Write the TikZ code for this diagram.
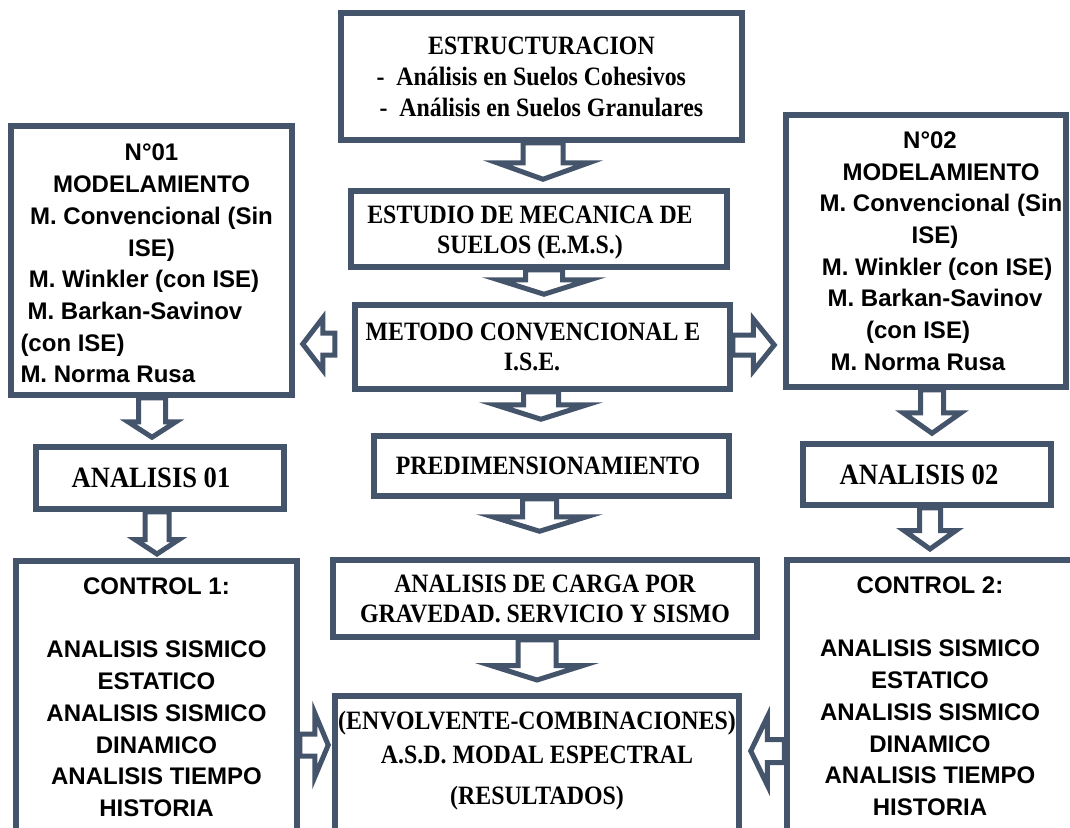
\documentclass[tikz,border=0pt]{standalone}
\usepackage{fontspec}
\setmainfont{Liberation Serif}[FakeStretch=0.9]
\newfontfamily\arialf{Liberation Sans}
\usetikzlibrary{calc}
\definecolor{slate}{HTML}{44546A}
\tikzset{
  box/.style={draw=slate, line width=5.5pt, fill=white, inner sep=0pt, align=center},
  serifb/.style={font=\fontsize{26.5}{30}\selectfont\bfseries},
  sansb/.style={font=\arialf\fontsize{24}{31.7}\selectfont\bfseries},
  barrow/.style={draw=slate, line width=5pt, fill=white, line join=miter},
}
% down arrow: from, to, x, shaft half width, head half width, head length, gap to target
\newcommand\arrdown[7]{%
  \draw[barrow] let \p1=(#1.south), \p2=(#2.north) in
  (#3pt-#4pt,\y1) -- (#3pt-#4pt,\y2+#7pt+#6pt) -- (#3pt-#5pt,\y2+#7pt+#6pt) -- (#3pt,\y2+#7pt)
  -- (#3pt+#5pt,\y2+#7pt+#6pt) -- (#3pt+#4pt,\y2+#7pt+#6pt) -- (#3pt+#4pt,\y1) -- cycle;}
% left arrow: from (to the right), to (on the left), y, shaft hw, head hw, head length, gap, start offset
\newcommand\arrleft[8]{%
  \draw[barrow] let \p1=(#1.west), \p2=(#2.east) in
  (\x1-#8pt,#4pt-#3pt) -- (\x2+#7pt+#6pt,#4pt-#3pt) -- (\x2+#7pt+#6pt,#5pt-#3pt) -- (\x2+#7pt,-#3pt)
  -- (\x2+#7pt+#6pt,-#5pt-#3pt) -- (\x2+#7pt+#6pt,-#4pt-#3pt) -- (\x1-#8pt,-#4pt-#3pt) -- cycle;}
% right arrow: from (on the left), to (on the right), y, shaft hw, head hw, head length, gap, start offset
\newcommand\arrright[8]{%
  \draw[barrow] let \p1=(#1.east), \p2=(#2.west) in
  (\x1+#8pt,#4pt-#3pt) -- (\x2-#7pt-#6pt,#4pt-#3pt) -- (\x2-#7pt-#6pt,#5pt-#3pt) -- (\x2-#7pt,-#3pt)
  -- (\x2-#7pt-#6pt,-#5pt-#3pt) -- (\x2-#7pt-#6pt,-#4pt-#3pt) -- (\x1+#8pt,-#4pt-#3pt) -- cycle;}
\begin{document}
\begin{tikzpicture}[x=1pt,y=1pt]
\useasboundingbox (0,0) rectangle (1070,-827);
\fill[white] (0,0) rectangle (1070,-827);
\clip (0,0) rectangle (1070,-827);

% central column
\node[box, serifb, font=\fontsize{26.5}{31}\selectfont\bfseries, minimum width=401, minimum height=127] (est) at (541.5,-76.5)
  {ESTRUCTURACION\\
   \makebox[330pt][l]{-\hspace{12pt}Análisis en Suelos Cohesivos}\\
   \makebox[330pt][l]{\hspace{3pt}-\hspace{12pt}Análisis en Suelos Granulares}};
\node[box, serifb, minimum width=376, minimum height=76] (ems) at (539,-229)
  {\rule{0pt}{25pt}\hspace*{-18pt}ESTUDIO DE MECANICA DE\\\hspace*{-18pt}SUELOS (E.M.S.)};
\node[box, serifb, minimum width=375, minimum height=84] (met) at (542.5,-347)
  {\hspace*{-19pt}METODO CONVENCIONAL E\\\hspace*{-21pt}I.S.E.};
\node[box, serifb, minimum width=355, minimum height=60] (pre) at (551.5,-466)
  {\hspace*{-7pt}PREDIMENSIONAMIENTO};
\node[box, serifb, minimum width=424, minimum height=77] (carga) at (545,-598.5)
  {ANALISIS DE CARGA POR\\GRAVEDAD. SERVICIO Y SISMO};
\node[box, serifb, minimum width=404, anchor=north, inner ysep=15pt, text depth=60pt] (env) at (537,-693)
  {(ENVOLVENTE-COMBINACIONES)\\[4pt]A.S.D. MODAL ESPECTRAL\\[11pt](RESULTADOS)};

% left column
\node[box, sansb, minimum width=281, minimum height=269] (n01) at (151.5,-260.5)
  {\rule{0pt}{23pt}N°01\\MODELAMIENTO\\M. Convencional (Sin\\ISE)\\\hspace*{-15pt}M. Winkler (con ISE)\\
   \hspace*{-33pt}M. Barkan-Savinov\\\makebox[262pt][l]{(con ISE)}\\\makebox[262pt][l]{M. Norma Rusa}};
\node[box, font=\fontsize{29.5}{30}\selectfont\bfseries, minimum width=248, minimum height=62] (a01) at (160,-478)
  {\hspace*{-18pt}ANALISIS 01};
\node[box, sansb, minimum width=281, anchor=north, inner ysep=17pt, text depth=40pt] (c1) at (156.5,-558)
  {CONTROL 1:\\[31.7pt]ANALISIS SISMICO\\ESTATICO\\ANALISIS SISMICO\\DINAMICO\\ANALISIS TIEMPO\\HISTORIA};

% right column
\node[box, sansb, minimum width=280, minimum height=272] (n02) at (926,-251)
  {\hspace*{8pt}N°02\\\hspace*{30pt}MODELAMIENTO\\\hspace*{30pt}M. Convencional (Sin\\\hspace*{18pt}ISE)\\
   \hspace*{22pt}M. Winkler (con ISE)\\\hspace*{18pt}M. Barkan-Savinov\\\hspace*{-16pt}(con ISE)\\\hspace*{-16pt}M. Norma Rusa};
\node[box, font=\fontsize{29.5}{30}\selectfont\bfseries, minimum width=248, minimum height=61] (a02) at (927,-474.5)
  {\hspace*{-16pt}ANALISIS 02};
\node[box, sansb, minimum width=286, anchor=north, inner ysep=17pt, text depth=40pt] (c2) at (930,-557)
  {CONTROL 2:\\[31.7pt]ANALISIS SISMICO\\ESTATICO\\ANALISIS SISMICO\\DINAMICO\\ANALISIS TIEMPO\\HISTORIA};

% vertical block arrows
\arrdown{est}{ems}{543}{20}{46}{16.5}{9}
\arrdown{ems}{met}{544}{18.5}{46}{14.5}{8}
\arrdown{met}{pre}{541}{17.5}{46}{14.5}{14}
\arrdown{pre}{carga}{539.5}{17}{47}{14.5}{26}
\arrdown{carga}{env}{537}{19}{46}{14.5}{13}
\arrdown{n01}{a01}{152}{13.5}{24}{15.5}{7}
\arrdown{a01}{c1}{157}{12}{22}{14.5}{4}
\arrdown{n02}{a02}{932}{11.5}{29}{20.5}{8}
\arrdown{a02}{c2}{930}{10.5}{26}{18.5}{8}

% horizontal block arrows
\arrleft{met}{n01}{344}{11}{26}{20}{8}{17.5}
\arrright{met}{n02}{345}{10}{26}{21}{9}{0}
\arrright{c1}{env}{745}{11}{32}{13.5}{4}{0}
\arrleft{c2}{env}{751}{11.5}{34}{16.5}{9}{0}
\end{tikzpicture}
\end{document}
